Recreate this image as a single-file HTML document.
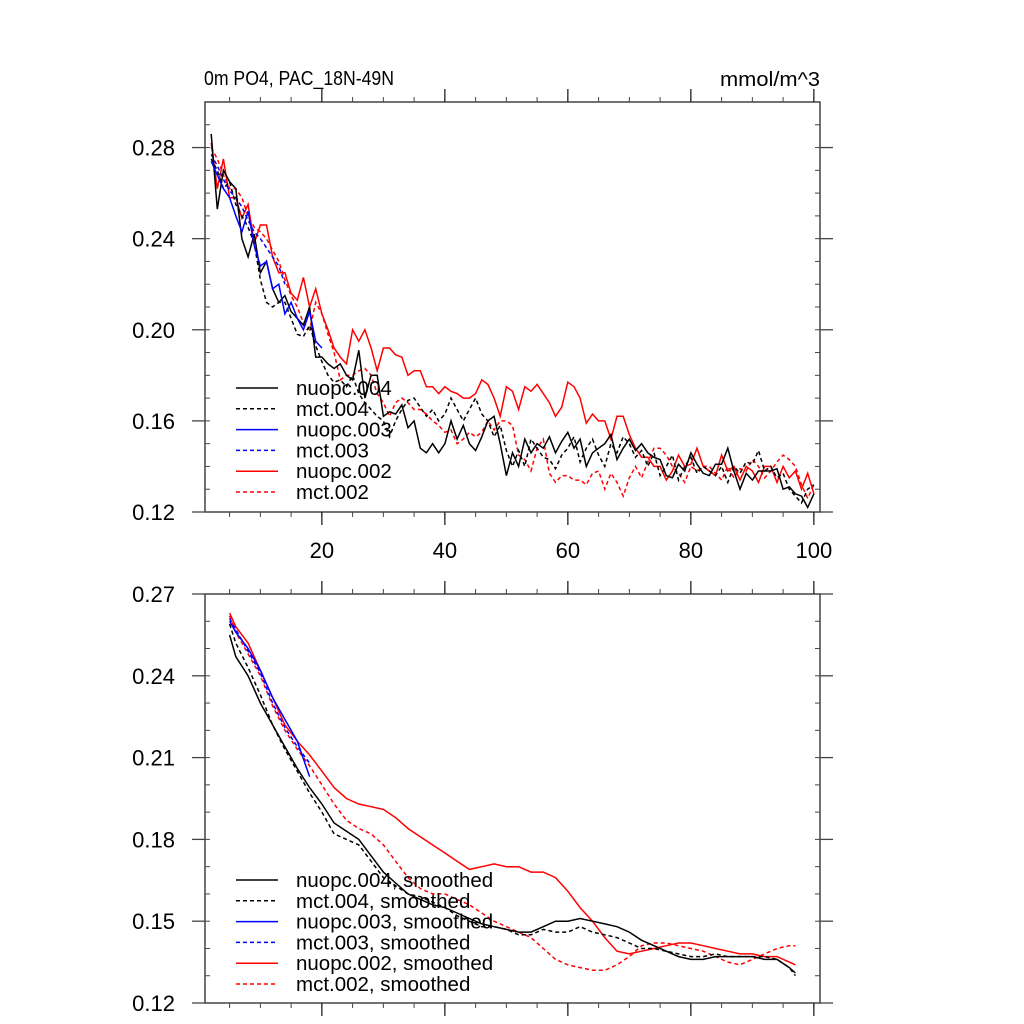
<!DOCTYPE html>
<html><head><meta charset="utf-8"><style>
html,body{margin:0;padding:0;background:#fff;}
svg{display:block;font-family:"Liberation Sans",sans-serif;}
</style></head><body>
<svg id="chart" width="1024" height="1024" viewBox="0 0 1024 1024" xmlns="http://www.w3.org/2000/svg">
<text x="204" y="85" font-size="20" textLength="190" lengthAdjust="spacingAndGlyphs">0m PO4, PAC_18N-49N</text>
<text x="720" y="86" font-size="20" textLength="100" lengthAdjust="spacingAndGlyphs">mmol/m^3</text>
<g id="top"></g><g id="bot"></g>
</svg>
<script>
const years = Array.from({length:99},(_, i)=>i+2);
const nuopc004 = [0.286,0.253,0.270,0.265,0.262,0.240,0.232,0.242,0.225,0.230,0.218,0.212,0.215,0.208,0.205,0.202,0.210,0.188,0.188,0.185,0.183,0.185,0.180,0.178,0.191,0.170,0.180,0.180,0.162,0.164,0.163,0.167,0.157,0.160,0.148,0.146,0.150,0.146,0.150,0.160,0.152,0.158,0.150,0.147,0.153,0.160,0.162,0.150,0.136,0.146,0.140,0.152,0.146,0.150,0.148,0.153,0.146,0.151,0.155,0.148,0.152,0.140,0.146,0.148,0.150,0.154,0.143,0.148,0.152,0.147,0.150,0.146,0.144,0.143,0.136,0.135,0.141,0.138,0.146,0.141,0.137,0.136,0.141,0.141,0.148,0.138,0.130,0.137,0.134,0.138,0.138,0.138,0.139,0.130,0.131,0.128,0.127,0.122,0.128];
const mct004 = [0.275,0.270,0.262,0.265,0.255,0.250,0.245,0.238,0.222,0.212,0.210,0.212,0.212,0.205,0.198,0.197,0.202,0.193,0.186,0.180,0.177,0.178,0.175,0.180,0.172,0.168,0.165,0.162,0.160,0.153,0.160,0.165,0.169,0.170,0.166,0.162,0.165,0.160,0.163,0.170,0.165,0.160,0.165,0.170,0.163,0.160,0.153,0.158,0.147,0.140,0.147,0.140,0.152,0.148,0.144,0.143,0.139,0.145,0.148,0.153,0.142,0.148,0.152,0.145,0.140,0.150,0.146,0.153,0.150,0.144,0.147,0.140,0.146,0.136,0.140,0.145,0.134,0.140,0.144,0.137,0.140,0.138,0.136,0.140,0.133,0.140,0.137,0.142,0.141,0.147,0.138,0.140,0.135,0.137,0.130,0.127,0.124,0.130,0.132];
const nuopc002 = [0.282,0.262,0.275,0.258,0.258,0.249,0.255,0.238,0.246,0.246,0.232,0.225,0.225,0.216,0.213,0.223,0.210,0.218,0.207,0.200,0.192,0.188,0.185,0.200,0.195,0.200,0.192,0.182,0.192,0.192,0.189,0.188,0.180,0.182,0.182,0.175,0.175,0.172,0.175,0.173,0.172,0.170,0.170,0.172,0.178,0.176,0.170,0.162,0.175,0.173,0.165,0.175,0.173,0.176,0.172,0.168,0.162,0.166,0.177,0.175,0.170,0.159,0.163,0.160,0.160,0.152,0.162,0.162,0.154,0.148,0.144,0.144,0.140,0.140,0.134,0.138,0.145,0.140,0.141,0.148,0.140,0.138,0.136,0.145,0.138,0.140,0.134,0.140,0.138,0.133,0.140,0.140,0.133,0.140,0.135,0.138,0.130,0.137,0.128];
const mct002 = [0.280,0.275,0.268,0.262,0.262,0.258,0.250,0.245,0.243,0.240,0.235,0.230,0.222,0.215,0.210,0.203,0.200,0.212,0.207,0.198,0.190,0.178,0.180,0.180,0.182,0.183,0.180,0.172,0.168,0.162,0.168,0.170,0.168,0.165,0.165,0.163,0.160,0.158,0.155,0.156,0.150,0.152,0.155,0.153,0.155,0.160,0.156,0.160,0.160,0.158,0.145,0.143,0.138,0.148,0.152,0.137,0.133,0.136,0.136,0.134,0.134,0.132,0.137,0.138,0.130,0.137,0.133,0.127,0.135,0.140,0.135,0.142,0.148,0.148,0.145,0.140,0.137,0.133,0.140,0.138,0.140,0.140,0.137,0.134,0.140,0.135,0.139,0.138,0.143,0.140,0.135,0.138,0.142,0.145,0.143,0.140,0.132,0.126,0.132];
const nuopc003 = [0.274,0.268,0.262,0.258,0.250,0.243,0.252,0.237,0.228,0.230,0.218,0.220,0.207,0.212,0.205,0.200,0.208,0.195,0.192];
const mct003 = [0.277,0.272,0.266,0.261,0.258,0.254,0.248,0.243,0.240,0.236,0.232,0.228,0.220];

const syears = [5,6,8,10,12,14,16,18,20,22,24,26,28,30,32,34,36,38,40,42,44,46,48,50,52,54,56,58,60,62,64,66,68,70,72,74,76,78,80,82,84,86,88,90,92,94,96,97];
const sNuopc004 = [0.255,0.247,0.240,0.230,0.222,0.214,0.206,0.199,0.193,0.186,0.183,0.180,0.174,0.168,0.164,0.160,0.158,0.156,0.155,0.153,0.151,0.149,0.148,0.147,0.146,0.146,0.148,0.150,0.150,0.151,0.150,0.149,0.148,0.146,0.143,0.141,0.139,0.137,0.136,0.136,0.137,0.137,0.137,0.137,0.136,0.136,0.133,0.131];
const sMct004 = [0.259,0.252,0.243,0.233,0.222,0.213,0.205,0.197,0.190,0.182,0.180,0.178,0.172,0.166,0.163,0.160,0.159,0.157,0.155,0.152,0.150,0.148,0.148,0.147,0.145,0.145,0.147,0.146,0.146,0.148,0.146,0.145,0.144,0.142,0.140,0.140,0.139,0.138,0.137,0.137,0.138,0.137,0.137,0.137,0.137,0.136,0.133,0.130];
const sNuopc002 = [0.263,0.258,0.252,0.242,0.232,0.222,0.216,0.211,0.205,0.199,0.195,0.193,0.192,0.191,0.188,0.184,0.181,0.178,0.175,0.172,0.169,0.170,0.171,0.170,0.170,0.168,0.168,0.166,0.161,0.155,0.150,0.144,0.139,0.138,0.139,0.140,0.141,0.142,0.142,0.141,0.140,0.139,0.138,0.138,0.137,0.137,0.135,0.134];
const sMct002 = [0.262,0.256,0.248,0.240,0.229,0.220,0.213,0.207,0.200,0.193,0.187,0.184,0.182,0.178,0.172,0.166,0.162,0.160,0.160,0.158,0.156,0.153,0.150,0.148,0.146,0.144,0.140,0.136,0.134,0.133,0.132,0.132,0.134,0.137,0.141,0.142,0.142,0.141,0.140,0.139,0.137,0.135,0.134,0.136,0.138,0.140,0.141,0.141];
const s3years = [5,6,8,10,12,14,16,18];
const sNuopc003 = [0.260,0.256,0.250,0.242,0.232,0.224,0.216,0.203];
const sMct003 = [0.261,0.257,0.249,0.241,0.230,0.221,0.214,0.208];

const topYTicks = ["0.12","0.16","0.20","0.24","0.28"];
const botYTicks = ["0.12","0.15","0.18","0.21","0.24","0.27"];
const xTicks = ["20","40","60","80","100"];

const NS="http://www.w3.org/2000/svg";
const L=205,R=820;
const xs = v => L + (v-1)/100*(R-L);
function mk(tag,attrs,parent){const e=document.createElementNS(NS,tag);for(const k in attrs)e.setAttribute(k,attrs[k]);parent.appendChild(e);return e;}

function panel(g,top,bot,ymin,ymax,yTicks,minorStep,showXLabels,name){
  const ys = v => bot - (v-ymin)/(ymax-ymin)*(bot-top);
  const fr=mk('rect',{x:L,y:top,width:R-L,height:bot-top,fill:'none',stroke:'#444','stroke-width':1.5},g);
  
  
  for(let v=ymin; v<=ymax+1e-9; v+=minorStep){
    const y=ys(v);
    mk('line',{x1:L,x2:L+5,y1:y,y2:y,stroke:'#444'},g);
    mk('line',{x1:R-5,x2:R,y1:y,y2:y,stroke:'#444'},g);
  }
  yTicks.forEach(t=>{
    const y=ys(parseFloat(t));
    mk('line',{x1:L-13,x2:L,y1:y,y2:y,stroke:'#444','stroke-width':1.3},g);
    mk('line',{x1:R,x2:R+13,y1:y,y2:y,stroke:'#444','stroke-width':1.3},g);
    const tx=mk('text',{x:L-30,y:y+8,'font-size':22,'text-anchor':'end'},g);
    tx.textContent=t;
    
    
  });
  for(let v=5; v<=100; v+=5){
    const x=xs(v);
    mk('line',{x1:x,x2:x,y1:bot,y2:bot+5,stroke:'#444'},g);
    mk('line',{x1:x,x2:x,y1:top-5,y2:top,stroke:'#444'},g);
  }
  xTicks.forEach(t=>{
    const x=xs(parseFloat(t));
    mk('line',{x1:x,x2:x,y1:bot,y2:bot+13,stroke:'#222','stroke-width':1.3},g);
    mk('line',{x1:x,x2:x,y1:top-13,y2:top,stroke:'#222','stroke-width':1.3},g);
    if(showXLabels){
      const tx=mk('text',{x:x,y:bot+46,'font-size':22,'text-anchor':'middle'},g);
      tx.textContent=t;
      
      
    }
  });
  return ys;
}
function series(g,xv,yv,ys,color,dash,name){
  const d=yv.map((v,i)=>(i?'L':'M')+xs(xv[i]).toFixed(1)+' '+ys(v).toFixed(1)).join(' ');
  const p=mk('path',{d:d,fill:'none',stroke:color,'stroke-width':1.5,'stroke-dasharray':dash?'4 3':'none'},g);
  
  
}
function legend(g,y0,labels){
  labels.forEach((l,i)=>{
    const y=y0+i*20.8;
    mk('line',{x1:236,x2:278,y1:y,y2:y,stroke:l[1],'stroke-width':1.5,'stroke-dasharray':l[2]?'4 3':'none'},g);
    const t=mk('text',{x:296,y:y+7,'font-size':20.5},g);
    t.textContent=l[0];
    
    
  });
}
const gt=document.getElementById('top'), gb=document.getElementById('bot');
const ysT=panel(gt,102,512,0.12,0.30,topYTicks,0.01,true,'top-panel');
const yr3=years.slice(0,nuopc003.length), yr3m=years.slice(0,mct003.length);
series(gt,years,mct002,ysT,'#f00',true,'mct002-line');
series(gt,years,nuopc002,ysT,'#f00',false,'nuopc002-line');
series(gt,yr3m,mct003,ysT,'#00f',true,'mct003-line');
series(gt,years,mct004,ysT,'#000',true,'mct004-line');
series(gt,years,nuopc004,ysT,'#000',false,'nuopc004-line');
series(gt,yr3,nuopc003,ysT,'#00f',false,'nuopc003-line');
legend(gt,388,[["nuopc.004","#000",false],["mct.004","#000",true],["nuopc.003","#00f",false],["mct.003","#00f",true],["nuopc.002","#f00",false],["mct.002","#f00",true]]);

const ysB=panel(gb,594,1003,0.12,0.27,botYTicks,0.01,false,'bottom-panel');
series(gb,syears,sMct002,ysB,'#f00',true,'mct002-smoothed-line');
series(gb,syears,sNuopc002,ysB,'#f00',false,'nuopc002-smoothed-line');
series(gb,s3years,sMct003,ysB,'#00f',true,'mct003-smoothed-line');
series(gb,syears,sMct004,ysB,'#000',true,'mct004-smoothed-line');
series(gb,syears,sNuopc004,ysB,'#000',false,'nuopc004-smoothed-line');
series(gb,s3years,sNuopc003,ysB,'#00f',false,'nuopc003-smoothed-line');
legend(gb,880,[["nuopc.004, smoothed","#000",false],["mct.004, smoothed","#000",true],["nuopc.003, smoothed","#00f",false],["mct.003, smoothed","#00f",true],["nuopc.002, smoothed","#f00",false],["mct.002, smoothed","#f00",true]]);
</script>
</body></html>
